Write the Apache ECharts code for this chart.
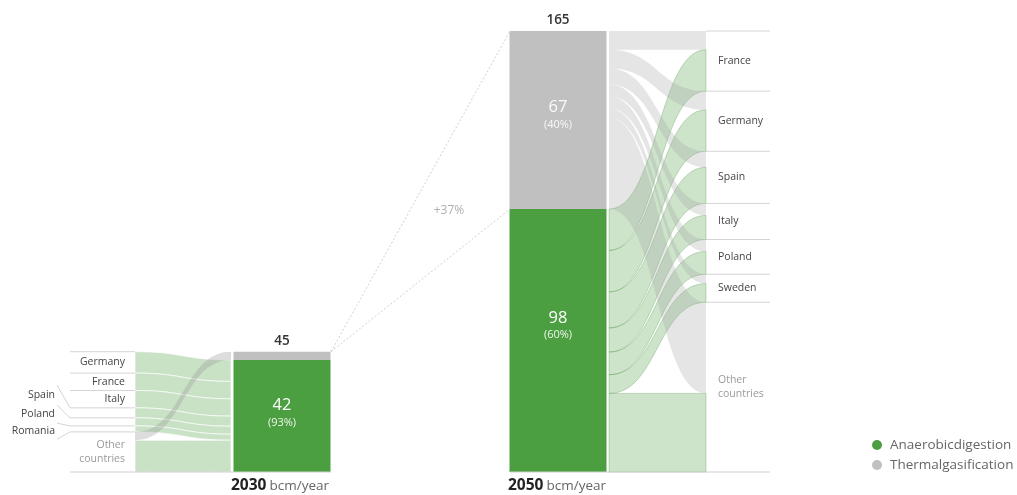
<!DOCTYPE html>
<html><head><meta charset="utf-8">
<script src="https://cdn.jsdelivr.net/npm/echarts@6/dist/echarts.min.js"></script>
<style>html,body{margin:0;padding:0;background:#fff}#c{width:1017px;height:495px}</style>
</head><body><div id="c"></div>
<script>
// ---------------- data ----------------
const years = ['2030', '2050'];
const unit = 'bcm/year';
const growthLabel = '+37%';
const seriesNames = ['Anaerobicdigestion', 'Thermalgasification'];
const countries2030 = ['Germany', 'France', 'Italy', 'Spain', 'Poland', 'Romania', 'Other countries'];
const anaerobic2030 = [8, 6.5, 6.5, 3.75, 3, 2.25, 11.9];
const thermal2030   = [0, 0, 0, 0, 0, 0, 3.1];
const countries2050 = ['France', 'Germany', 'Spain', 'Italy', 'Poland', 'Sweden', 'Other countries'];
const anaerobic2050 = [15.5, 15.5, 13.5, 9, 8.5, 7, 29.4];
const thermal2050   = [7, 7, 6, 4.5, 4.5, 3.5, 34.1];

// ---------------- layout (x positions on the layout axis, styles) ----------------
const L = {
  lab2030L: 70, flow2030L: 135, flow2030R: 231, bar2030L: 233, bar2030: 282, bar2030R: 331,
  bar2050L: 510, bar2050: 558, bar2050R: 606, flow2050L: 609, flow2050R: 706, lab2050R: 770,
  leaderX: 57, smallLabelX: 55, bigLabelX: 125, label2050X: 718, growthX: 449, barWidth: 97
};
const leaderSlots2030 = [null, null, null, 32.5, 25.1, 18.3, 12.3];
// label vertical offsets (px) inside bars: [series][year]
const barLabelOffset = [[-3, -15], [0, -5]];
const FONT = 'Open Sans';
const C = {
  green: '#4b9f41', gray: '#c0c0c0', line: '#d4d4d4', text: '#444', faint: '#9a9a9a'
};

// ---------------- derived ----------------
const sum = a => a.reduce((s, v) => s + v, 0);
const totA = [sum(anaerobic2030), sum(anaerobic2050)];
const totT = [sum(thermal2030), sum(thermal2050)];
const tot = [totA[0] + totT[0], totA[1] + totT[1]];
const barX = [L.bar2030, L.bar2050];

// links: [x0, x1, y0top, y0bot, y1top, y1bot, kind]
const greenLinks = [], grayLinks = [];
(function () {
  let cTop = tot[0], tTop = tot[0], gTop = totA[0];
  countries2030.forEach((n, i) => {
    const t = thermal2030[i], a = anaerobic2030[i];
    if (t > 0) { grayLinks.push([L.flow2030L, L.flow2030R, cTop, cTop - t, tTop, tTop - t, 1]); tTop -= t; }
    greenLinks.push([L.flow2030L, L.flow2030R, cTop - t, cTop - t - a, gTop, gTop - a, 0]); gTop -= a;
    cTop -= t + a;
  });
  cTop = tot[1]; tTop = tot[1]; gTop = totA[1];
  countries2050.forEach((n, i) => {
    const t = thermal2050[i], a = anaerobic2050[i];
    grayLinks.push([L.flow2050L, L.flow2050R, tTop, tTop - t, cTop, cTop - t, 3]); tTop -= t;
    greenLinks.push([L.flow2050L, L.flow2050R, gTop, gTop - a, cTop - t, cTop - t - a, 2]); gTop -= a;
    cTop -= t + a;
  });
})();
const links = greenLinks.filter(l => l[6] === 0).concat(grayLinks.filter(l => l[6] === 1),
  greenLinks.filter(l => l[6] === 2), grayLinks.filter(l => l[6] === 3));

function rows(values1, values2, total) {
  const out = []; let top = total;
  values1.forEach((v, i) => { const h = v + values2[i]; out.push([top, top - h, i]); top -= h; });
  return out;
}
const rows2030 = rows(anaerobic2030, thermal2030, tot[0]);
const rows2050 = rows(anaerobic2050, thermal2050, tot[1]);

// ---------------- render helpers ----------------
const linkStyle = {
  0: { fill: 'rgba(75,159,65,0.30)', stroke: 'rgba(255,255,255,0.85)', lineWidth: 0.8 },
  1: { fill: 'rgba(150,150,150,0.32)', stroke: null, lineWidth: 0 },
  2: { fill: 'rgba(75,159,65,0.28)', stroke: 'rgba(60,140,52,0.35)', lineWidth: 0.8 },
  3: { fill: 'rgba(160,160,160,0.28)', stroke: null, lineWidth: 0 }
};
function bez(a, b, t) {
  const xm = (a[0] + b[0]) / 2, mt = 1 - t;
  return [mt * mt * mt * a[0] + 3 * mt * mt * t * xm + 3 * mt * t * t * xm + t * t * t * b[0],
          mt * mt * mt * a[1] + 3 * mt * mt * t * a[1] + 3 * mt * t * t * b[1] + t * t * t * b[1]];
}
function renderLink(params, api) {
  const x0 = api.value(0), x1 = api.value(1);
  const p0a = api.coord([x0, api.value(2)]), p0b = api.coord([x0, api.value(3)]);
  const p1a = api.coord([x1, api.value(4)]), p1b = api.coord([x1, api.value(5)]);
  const N = 40, pts = [];
  for (let k = 0; k <= N; k++) pts.push(bez(p0a, p1a, k / N));
  for (let k = 0; k <= N; k++) pts.push(bez(p1b, p0b, k / N));
  const s = linkStyle[api.value(6)];
  return { type: 'polygon', shape: { points: pts }, style: { fill: s.fill, stroke: s.stroke, lineWidth: s.lineWidth }, silent: true };
}
function lineEl(pts, extra) {
  return { type: 'polyline', shape: { points: pts }, style: Object.assign({ fill: null, stroke: C.line, lineWidth: 1 }, extra || {}), silent: true };
}
function textEl(pos, text, st) {
  return { type: 'text', x: pos[0], y: pos[1], silent: true,
    style: Object.assign({ text: text, fontFamily: FONT, fontSize: 10.5, fill: C.text, verticalAlign: 'middle', align: 'left', lineHeight: 14 }, st || {}) };
}
function labelText(name) { return name === 'Other countries' ? 'Other\ncountries' : name; }
const pct = (v, t) => Math.round(v / t * 100) + '%';

function makeBarRenderer(s) {
  const totals = s === 0 ? totA : totT;
  const txtColor = s === 0 ? ['#ffffff', '#eef6ec'] : ['rgba(255,255,255,0.92)', 'rgba(255,255,255,0.88)'];
  return function (params, api) {
    const xc = api.value(0), y0 = api.value(1), y1 = api.value(2), i = api.value(3);
    const w = api.size([L.barWidth, 0])[0];
    const pb = api.coord([xc, y0]), pt = api.coord([xc, y1]);
    const children = [{ type: 'rect', shape: { x: pb[0] - w / 2, y: pt[1], width: w, height: pb[1] - pt[1] },
      style: { fill: api.visual('color') } }];
    if (s === 0 || i === 1) {
      children.push({ type: 'text', x: pb[0], y: (pb[1] + pt[1]) / 2 + barLabelOffset[s][i], silent: true,
        style: { text: '{v|' + Math.round(totals[i]) + '}\n{p|(' + pct(totals[i], tot[i]) + ')}',
          align: 'center', verticalAlign: 'middle', fontFamily: FONT,
          rich: { v: { fontSize: 16.5, fill: txtColor[0], fontFamily: FONT, lineHeight: 19, align: 'center' },
                  p: { fontSize: 11, fill: txtColor[1], fontFamily: FONT, lineHeight: 15, align: 'center' } } } });
    }
    return { type: 'group', children };
  };
}

function renderRows2030(params, api) {
  const top = api.value(0), bot = api.value(1), i = api.value(2);
  const slot = leaderSlots2030[i];
  const pts = [api.coord([L.flow2030L, top]), api.coord([L.lab2030L, top])];
  if (slot != null) pts.push(api.coord([L.leaderX, slot]));
  const children = [lineEl(pts)];
  const name = countries2030[i];
  const small = slot != null && leaderSlots2030[i + 1] != null;
  const pos = small ? api.coord([L.smallLabelX, (slot + leaderSlots2030[i + 1]) / 2])
                    : api.coord([L.bigLabelX, (top + bot) / 2]);
  children.push(textEl(pos, labelText(name), { align: 'right', fill: name === 'Other countries' ? C.faint : C.text }));
  return { type: 'group', children };
}
function renderRows2050(params, api) {
  const top = api.value(0), bot = api.value(1), i = api.value(2);
  const name = countries2050[i];
  return { type: 'group', children: [
    lineEl([api.coord([L.flow2050R, top]), api.coord([L.lab2050R, top])]),
    textEl(api.coord([L.label2050X, (top + bot) / 2]), labelText(name), { fill: name === 'Other countries' ? C.faint : C.text })
  ] };
}
function renderAnnot(params, api) {
  const i = api.value(0);
  const xl = api.value(1), xc = api.value(2), xr = api.value(3), total = api.value(4), xLine = api.value(5);
  const base = api.coord([xl, 0]);
  const topPt = api.coord([xc, total]);
  return { type: 'group', children: [
    lineEl([api.coord([xLine, 0]), api.coord([xr, 0])], { stroke: '#cfcfcf' }),
    textEl([topPt[0], topPt[1] - 11], String(Math.round(total)), { align: 'center', fontSize: 13.5, fontWeight: 600, fill: '#333' }),
    { type: 'text', x: base[0] - 2, y: base[1] + 14, silent: true,
      style: { text: '{y|' + years[i] + '} {u|' + unit + '}', verticalAlign: 'middle', align: 'left', fontFamily: FONT,
        rich: { y: { fontSize: 15.5, fontWeight: 700, fill: '#222', fontFamily: FONT }, u: { fontSize: 13.5, fill: '#666', fontFamily: FONT } } } }
  ] };
}
function renderGrowth(params, api) {
  const p0 = api.coord([api.value(0), api.value(1)]);
  const p1 = api.coord([api.value(2), api.value(3)]);
  const p2 = api.coord([api.value(2), api.value(4)]);
  const tx = L.growthX, f = (tx - api.value(0)) / (api.value(2) - api.value(0));
  const upper = api.value(1) + (api.value(3) - api.value(1)) * f;
  const lower = api.value(1) + (api.value(4) - api.value(1)) * f;
  const tp = api.coord([tx, lower + 0.4 * (upper - lower)]);
  const dash = { stroke: '#c4c4c4', lineWidth: 0.8, lineDash: [2, 2] };
  return { type: 'group', children: [
    lineEl([p0, p1], dash), lineEl([p0, p2], dash),
    textEl(tp, growthLabel, { align: 'center', fontSize: 12, fill: '#b0b0b0' })
  ] };
}

const option = {
  animation: false,
  textStyle: { fontFamily: FONT },
  grid: { left: 0, right: 0, top: 31, bottom: 23 },
  xAxis: { type: 'value', min: 0, max: 1017, show: false },
  yAxis: { type: 'value', min: 0, max: 165, show: false },
  legend: {
    orient: 'vertical', left: 867, top: 433, itemWidth: 10, itemHeight: 10, itemGap: 6, icon: 'circle',
    textStyle: { fontSize: 13.5, color: '#666', fontFamily: FONT, padding: [0, 0, 0, 3] },
    data: seriesNames
  },
  series: [
    { type: 'custom', name: 'links', renderItem: renderLink, data: links, silent: true, z: 1,
      encode: { x: [0, 1], y: [2, 3, 4, 5] } },
    { type: 'custom', name: seriesNames[0], renderItem: makeBarRenderer(0), z: 2, silent: true,
      itemStyle: { color: C.green },
      data: years.map((y, i) => [barX[i], 0, totA[i], i]), encode: { x: 0, y: [1, 2] } },
    { type: 'custom', name: seriesNames[1], renderItem: makeBarRenderer(1), z: 2, silent: true,
      itemStyle: { color: C.gray },
      data: years.map((y, i) => [barX[i], totA[i], tot[i], i]), encode: { x: 0, y: [1, 2] } },
    { type: 'custom', name: 'rows2030', renderItem: renderRows2030, data: rows2030, silent: true, z: 3,
      encode: { y: [0, 1] } },
    { type: 'custom', name: 'rows2050', renderItem: renderRows2050, data: rows2050, silent: true, z: 3,
      encode: { y: [0, 1] } },
    { type: 'custom', name: 'annot', renderItem: renderAnnot, silent: true, z: 3,
      data: [[0, L.bar2030L, L.bar2030, L.bar2030R, tot[0], L.lab2030L], [1, L.bar2050L, L.bar2050, L.lab2050R, tot[1], L.bar2050L]],
      encode: { x: [1, 2, 3], y: 4 } },
    { type: 'custom', name: 'growth', renderItem: renderGrowth, silent: true, z: 3,
      data: [[L.bar2030R, tot[0], L.bar2050L, tot[1], totA[1]]], encode: { x: [0, 2], y: [1, 3, 4] } }
  ]
};
const chart = echarts.init(document.getElementById('c'), null, { renderer: 'canvas' });
chart.setOption(option);
</script>
</body></html>
